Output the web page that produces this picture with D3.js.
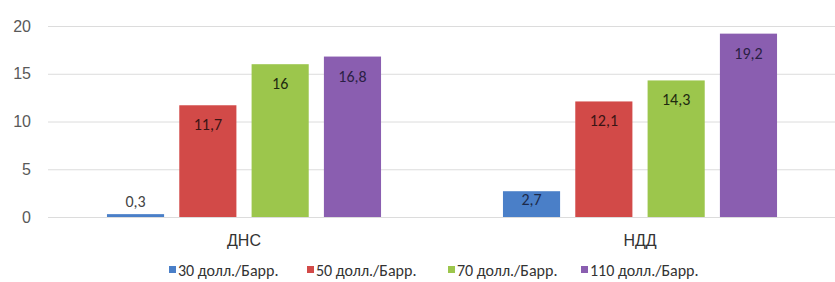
<!DOCTYPE html>
<html><head><meta charset="utf-8">
<script src="https://cdn.jsdelivr.net/npm/d3@7/dist/d3.min.js"></script>
<style>body{margin:0;background:#fff}svg{display:block;font-family:Calibri,Carlito,"Open Sans","Noto Sans",sans-serif}</style>
</head><body><svg id="c" width="835" height="282"></svg>
<script>
const categories = ["ДНС", "НДД"];
const seriesNames = ["30 долл./Барр.", "50 долл./Барр.", "70 долл./Барр.", "110 долл./Барр."];
const values30 = [0.3, 2.7];
const values50 = [11.7, 12.1];
const values70 = [16, 14.3];
const values110 = [16.8, 19.2];
const valueLabels = [["0,3","2,7"],["11,7","12,1"],["16","14,3"],["16,8","19,2"]];
const yTicks = [0, 5, 10, 15, 20];
const colors = ["#4a7fc8", "#d24a48", "#9cc64c", "#8a5eb0"];
const labelColors = ["#1c2a4a", "#3a1414", "#1e2a10", "#2a1f45"];
const series = [values30, values50, values70, values110];

const svg = d3.select("#c");
const mLeft = 46, mRight = 838, mTop = 26, mBottom = 217;
const y = d3.scaleLinear().domain([0, 20]).range([mBottom, mTop]);
const x0 = d3.scaleBand().domain(categories).range([mLeft, mRight]).paddingInner(0).paddingOuter(0);
const x1 = d3.scaleBand().domain(d3.range(4)).range([0, x0.bandwidth()]).paddingInner(0.21).paddingOuter(0.843);

// gridlines
svg.append("g").selectAll("line").data(yTicks).join("line")
  .attr("x1", mLeft + 2).attr("x2", 835).attr("y1", d => y(d) + 0.5).attr("y2", d => y(d) + 0.5)
  .attr("stroke", "#dcdcdc").attr("stroke-width", 1);

// y axis labels
const yAxis = d3.axisLeft(y).tickValues(yTicks).tickSize(0).tickPadding(0);
const ga = svg.append("g").attr("transform", `translate(31,0)`).call(yAxis);
ga.select(".domain").remove();
ga.selectAll("text").attr("font-size", 16).attr("fill", "#595959").style("font-family", "inherit");

// bars
const groups = svg.append("g").selectAll("g").data(series).join("g").attr("fill", (d, i) => colors[i]);
groups.each(function(vals, si) {
  const g = d3.select(this);
  g.selectAll("rect").data(vals).join("rect")
    .attr("x", (d, ci) => x0(categories[ci]) + x1(si))
    .attr("width", x1.bandwidth())
    .attr("y", d => y(d))
    .attr("height", d => y(0) - y(d));
  g.selectAll("text").data(vals).join("text")
    .attr("x", (d, ci) => x0(categories[ci]) + x1(si) + x1.bandwidth() / 2)
    .attr("y", d => {
      const h = y(0) - y(d);
      return h < 20 ? y(d) - 7 : y(d) + Math.min(25, h * 0.55);
    })
    .attr("text-anchor", "middle").attr("font-size", 16)
    .attr("fill", d => (y(0) - y(d) < 20) ? "#444" : labelColors[si])
    .text((d, ci) => valueLabels[si][ci]);
});

// category axis labels
const xAxis = d3.axisBottom(x0).tickSize(0).tickPadding(0);
const gx = svg.append("g").attr("transform", `translate(0,${mBottom + 29})`).call(xAxis);
gx.select(".domain").remove();
gx.selectAll("text").attr("font-size", 16).attr("fill", "#333").attr("dy", 0).style("font-family", "inherit");

// legend
const legendX = [169, 307, 448, 581];
const lg = svg.append("g").selectAll("g").data(seriesNames).join("g")
  .attr("transform", (d, i) => `translate(${legendX[i]},276)`);
lg.append("rect").attr("x", 0).attr("y", -10).attr("width", 7).attr("height", 7).attr("fill", (d, i) => colors[i]);
lg.append("text").attr("x", 9).attr("y", 0).attr("font-size", 16).attr("fill", "#333").text(d => d);
</script></body></html>
